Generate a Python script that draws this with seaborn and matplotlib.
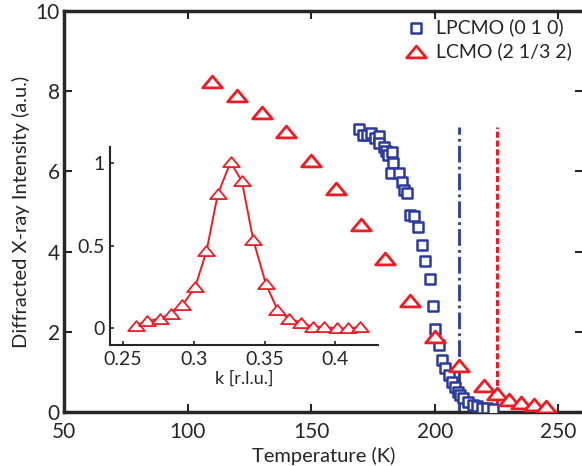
import matplotlib
matplotlib.use("Agg")
import matplotlib.pyplot as plt
import seaborn as sns
import numpy as np
import pandas as pd
from matplotlib.path import Path

# ── data ─────────────────────────────────────────────────────────────────────
lpcmo_T = [169.5, 170.9, 172.6, 174.2, 175.8, 177.5, 177.5, 179.5, 180.2, 181.1,
           182.9, 183.3, 182.2, 185.5, 186.9, 187.5, 188.9, 189.8, 191.6, 193.2,
           194.9, 196.2, 197.9, 199.2, 200.3, 201.9, 203.0, 204.3, 205.6, 206.9,
           208.2, 209.6, 210.2, 211.6, 213.6, 215.6, 217.0, 219.0, 221.0, 223.7]
lpcmo_I = [7.05, 6.90, 6.90, 6.95, 6.83, 6.88, 6.70, 6.62, 6.50, 6.41,
           6.49, 6.20, 5.96, 5.96, 5.74, 5.53, 5.45, 4.91, 4.89, 4.61,
           4.16, 3.77, 3.31, 2.64, 2.06, 1.67, 1.30, 1.09, 0.92, 0.76,
           0.63, 0.50, 0.42, 0.34, 0.26, 0.18, 0.14, 0.10, 0.10, 0.07]

lcmo_T = [110, 120, 130, 140, 150, 160, 170, 180, 190, 200,
          210, 220, 225, 230, 235, 240, 245]
lcmo_I = [8.23, 7.87, 7.46, 6.97, 6.26, 5.55, 4.66, 3.82, 2.78, 1.86,
          1.15, 0.65, 0.44, 0.30, 0.23, 0.17, 0.13]

# inset: k-scan of the LCMO (2 1/3 2) peak
k_rlu = [0.259, 0.267, 0.276, 0.284, 0.292, 0.301, 0.309, 0.317, 0.326, 0.334,
         0.342, 0.351, 0.359, 0.367, 0.376, 0.384, 0.392, 0.401, 0.409, 0.417]
k_int = [0.018, 0.044, 0.060, 0.089, 0.140, 0.250, 0.467, 0.813, 1.008, 0.893,
         0.537, 0.268, 0.115, 0.060, 0.034, 0.010, 0.010, 0.000, 0.000, 0.008]

# transition temperatures (vertical markers)
TC_LPCMO = 210
TC_LCMO = 225
TC_LINE_TOP = 7.1

BLUE = "#2B3A9C"
RED = "#ED1C24"

# ── style ────────────────────────────────────────────────────────────────────
sns.set_style("ticks")
plt.rcParams["font.family"] = ["Lato", "DejaVu Sans"]
plt.rcParams["xtick.direction"] = "in"
plt.rcParams["ytick.direction"] = "in"

# wide, flat open triangle
tri = Path([(-1, -0.55), (1, -0.55), (0, 0.65), (-1, -0.55)],
           [Path.MOVETO, Path.LINETO, Path.LINETO, Path.CLOSEPOLY])

fig = plt.figure(figsize=(5.82, 4.66), dpi=100)
ax = fig.add_axes([0.110, 0.1159, 0.8918, 0.8605])

df_b = pd.DataFrame({"T": lpcmo_T, "I": lpcmo_I})
df_r = pd.DataFrame({"T": lcmo_T, "I": lcmo_I})

ax.vlines(TC_LPCMO, 0, TC_LINE_TOP, color=BLUE, lw=2.0,
          linestyles=(0, (6, 1.5, 1, 1.5)), zorder=1)
ax.vlines(TC_LCMO, 0, TC_LINE_TOP, color=RED, lw=2.2,
          linestyles=(0, (2, 0.9)), zorder=1)

sns.scatterplot(data=df_b, x="T", y="I", ax=ax, marker="s", s=62,
                facecolor="white", edgecolor=BLUE, linewidth=1.8,
                label="LPCMO (0 1 0)", zorder=3)
sns.scatterplot(data=df_r, x="T", y="I", ax=ax, marker=tri, s=200,
                facecolor="white", edgecolor=RED, linewidth=2.0,
                label="LCMO (2 1/3 2)", zorder=4)

ax.set_xlim(50, 260)
ax.set_ylim(0, 10)
ax.set_xticks([50, 100, 150, 200, 250])
ax.set_yticks([0, 2, 4, 6, 8, 10])
ax.set_xlabel("Temperature (K)", fontsize=14.5)
ax.xaxis.set_label_coords(0.5, -0.086)
ax.set_ylabel("Diffracted X-ray Intensity (a.u.)", fontsize=14.5, labelpad=4)
ax.tick_params(labelsize=15, top=True, right=True, length=6, width=1.5, pad=3)
ax.tick_params(axis="x", pad=7)
for sp in ax.spines.values():
    sp.set_linewidth(2.5)
    sp.set_visible(True)

leg = ax.legend(frameon=False, fontsize=14, loc="upper left",
                bbox_to_anchor=(0.685, 0.977), bbox_transform=fig.transFigure,
                handletextpad=0.5, labelspacing=0.3, handlelength=1.0,
                borderaxespad=0)

# ── inset ────────────────────────────────────────────────────────────────────
axi = fig.add_axes([0.189, 0.2597, 0.4605, 0.4249])
df_k = pd.DataFrame({"k": k_rlu, "I": k_int})
sns.lineplot(data=df_k, x="k", y="I", ax=axi, color=RED, lw=1.4,
             marker=tri, markersize=12, markerfacecolor="white",
             markeredgecolor=RED, markeredgewidth=1.3)
axi.set_xlim(0.241, 0.43)
axi.set_ylim(-0.1, 1.1)
axi.set_xticks([0.25, 0.3, 0.35, 0.4])
axi.set_xticklabels(["0.25", "0.3", "0.35", "0.4"])
axi.set_yticks([0, 0.5, 1])
axi.set_yticklabels(["0", "0.5", "1"])
axi.set_xlabel("k [r.l.u.]", fontsize=13, labelpad=2)
axi.set_ylabel("")
axi.tick_params(labelsize=14, length=3, width=1.2, pad=4)
axi.patch.set_alpha(0)
for side in ["top", "right"]:
    axi.spines[side].set_visible(False)
for side in ["left", "bottom"]:
    axi.spines[side].set_linewidth(1.5)

fig.savefig("out.png", dpi=100)
